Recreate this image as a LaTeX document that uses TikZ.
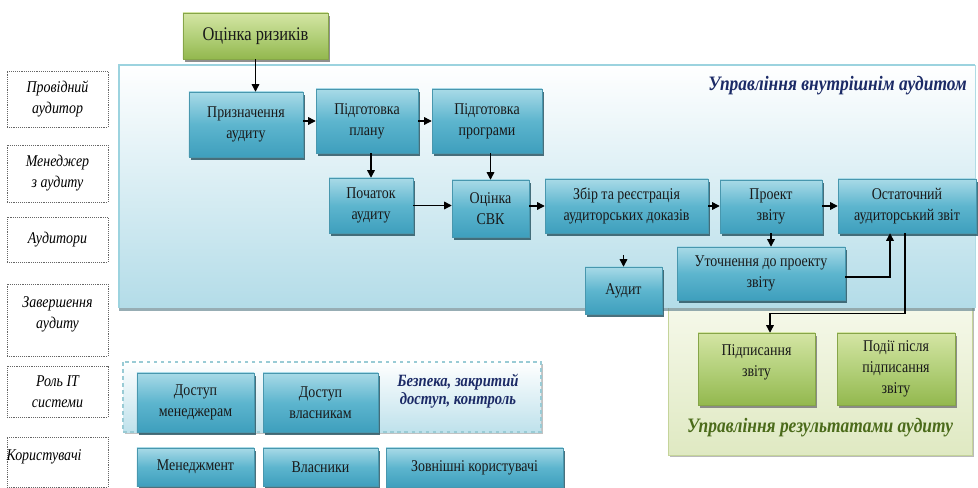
\documentclass[tikz,border=0pt]{standalone}
\usepackage{fontspec}
\setmainfont{Liberation Serif}[FakeStretch=0.85]
\usetikzlibrary{arrows.meta,shadows,calc}
\definecolor{bluetop}{HTML}{A8DAE7}
\definecolor{bluemid}{HTML}{5DB5CE}
\definecolor{bluebot}{HTML}{3E9FBD}
\definecolor{blueedge}{HTML}{4897AE}
\definecolor{greentop}{HTML}{D4E5A4}
\definecolor{greenmid}{HTML}{B3D07A}
\definecolor{greenbot}{HTML}{93B84E}
\definecolor{greenedge}{HTML}{86A548}
\definecolor{navy}{HTML}{1B2A66}
\definecolor{olive}{HTML}{4B6B1A}
\definecolor{panelbot}{HTML}{B3DCE8}
\definecolor{paneledge}{HTML}{9CD3DF}
\definecolor{shadowc}{HTML}{2C5866}
\definecolor{gpaneltop}{HTML}{F8FAEE}
\definecolor{gpanelbot}{HTML}{DFE9C2}
\definecolor{gpaneledge}{HTML}{C5D49A}
\tikzset{
  boxfont/.style={font=\fontsize{14}{18}\selectfont},
  bluebox/.style={draw=blueedge, line width=0.4pt, top color=bluetop, bottom color=bluebot, middle color=bluemid,
    align=center, inner sep=1pt, boxfont, text=black!90,
    drop shadow={shadow xshift=2pt, shadow yshift=-2.5pt, fill=shadowc, opacity=0.85}},
  greenbox/.style={draw=greenedge, line width=0.4pt, top color=greentop, bottom color=greenbot, middle color=greenmid,
    align=center, inner sep=1pt, boxfont, text=black!90,
    drop shadow={shadow xshift=2pt, shadow yshift=-2.5pt, fill=black!55, opacity=0.8}},
  rolebox/.style={draw=black!60, densely dotted, line width=0.6pt, align=center, inner sep=1pt,
    minimum width=3.03cm, font=\itshape\fontsize{14}{18}\selectfont},
  arr/.style={-{Triangle[length=6.5pt,width=6.5pt]}, line width=1.1pt, black},
  paneltitle/.style={font=\bfseries\itshape\fontsize{17.5}{20}\selectfont},
}
\begin{document}
\begin{tikzpicture}[x=0.03cm, y=-0.03cm]
\useasboundingbox (0,0) rectangle (978,488);

% green results panel
\path[draw=gpaneledge, line width=0.8pt, top color=gpaneltop, bottom color=gpanelbot,
  drop shadow={shadow xshift=1.5pt, shadow yshift=-2pt, fill=black!45, opacity=0.6}]
  (668,290) rectangle (972,455);
% blue internal audit panel
\path[top color=white, bottom color=panelbot,
  drop shadow={shadow xshift=0pt, shadow yshift=-2.5pt, fill=shadowc!70, opacity=0.7}]
  (119,65) rectangle (975,308);
\draw[paneledge, line width=1.2pt] (119,308) -- (119,65) -- (975,65);
\draw[paneledge!80, line width=0.5pt] (975,65) -- (975,308);
% dashed IT panel
\path[draw=paneledge!90!gray, dashed, line width=1pt, top color=white, bottom color=panelbot!85,
  drop shadow={shadow xshift=1.5pt, shadow yshift=-2pt, fill=black!40, opacity=0.6}]
  (123,362) rectangle (541,432);

% titles
\node[paneltitle, text=navy, anchor=east] (t1) at (971,86) {Управління внутрішнім аудитом};
\node[paneltitle, text=olive] (t2) at (820,428) {Управління результатами аудиту};
\node[font=\bfseries\itshape\fontsize{14.7}{15.5}\selectfont, text=navy, align=center] (t3) at (458,391)
  {Безпека, закритий\\доступ, контроль};

% role labels
\node[rolebox, minimum height=1.68cm] (l1) at (57.5,99) {Провідний\\аудитор};
\node[rolebox, minimum height=1.71cm] (l2) at (57.5,173.5) {Менеджер\\з аудиту};
\node[rolebox, minimum height=1.35cm] (l3) at (57.5,239.5) {Аудитори};
\node[rolebox, minimum height=2.16cm] (l4) at (57.5,320) {Завершення\\аудиту\\[-6pt]};
\node[rolebox, minimum height=1.53cm] (l5) at (57.5,391.5) {Роль IT\\системи};
\node[rolebox, minimum height=1.50cm] (l6) at (57.5,462) {\hspace*{-23pt}Користувачі\\[-6pt]};

% process boxes
\node[greenbox, minimum width=4.35cm, minimum height=1.38cm, font=\fontsize{16.5}{18}\selectfont] (risk) at (255.5,36) {Оцінка ризиків};
\node[bluebox, minimum width=3.42cm, minimum height=1.95cm] (pris) at (246,124.5) {Призначення\\аудиту};
\node[bluebox, minimum width=3.06cm, minimum height=1.92cm] (plan) at (367,121) {Підготовка\\плану};
\node[bluebox, minimum width=3.30cm, minimum height=1.92cm] (prog) at (487,121) {Підготовка\\програми};
\node[bluebox, minimum width=2.52cm, minimum height=1.65cm] (pochat) at (371,205.5) {Початок\\аудиту};
\node[bluebox, minimum width=2.31cm, minimum height=1.71cm] (svk) at (490.5,208.5) {Оцінка\\СВК};
\node[bluebox, minimum width=4.89cm, minimum height=1.62cm] (zbir) at (626.5,206) {Збір та реєстрація\\аудиторських доказів};
\node[bluebox, minimum width=3.06cm, minimum height=1.59cm] (proekt) at (771,206.5) {Проект\\звіту};
\node[bluebox, minimum width=4.14cm, minimum height=1.62cm] (ostat) at (907,206) {Остаточний\\аудиторський звіт};
\node[bluebox, minimum width=5.04cm, minimum height=1.59cm] (utoch) at (761,273.5) {Уточнення до проекту\\звіту};
\node[bluebox, minimum width=2.31cm, minimum height=1.41cm] (audit) at (623.5,290.5) {Аудит};
\node[greenbox, minimum width=3.51cm, minimum height=2.16cm] (pidp) at (756.5,369) {Підписання\\звіту\\[-3.5pt]};
\node[greenbox, minimum width=3.54cm, minimum height=2.16cm] (podii) at (896,369) {Події після\\підписання\\звіту};

% IT role and users
\node[bluebox, minimum width=3.51cm, minimum height=1.77cm] (dm) at (195.5,402.5) {Доступ\\менеджерам};
\node[bluebox, minimum width=3.45cm, minimum height=1.77cm] (dv) at (320.5,402.5) {Доступ\\власникам};
\node[bluebox, minimum width=3.51cm, minimum height=1.14cm] (men) at (195.5,467) {Менеджмент};
\node[bluebox, minimum width=3.45cm, minimum height=1.14cm] (vlas) at (320.5,467) {Власники};
\node[bluebox, minimum width=5.31cm, minimum height=1.17cm] (zovn) at (474.5,467.5) {Зовнішні користувачі};

% connectors
\draw[arr] (risk.south) -- (risk.south |- pris.north);
\draw[arr] (pris.east |- plan.west) -- (plan.west);
\draw[arr] (plan.east) -- (prog.west);
\draw[arr] (pochat.north |- plan.south) -- (pochat.north);
\draw[arr] (svk.north |- prog.south) -- (svk.north);
\draw[arr] (pochat.east) -- (pochat.east -| svk.west);
\draw[arr] (svk.east |- zbir.west) -- (zbir.west);
\draw[arr] (zbir.east) -- (zbir.east -| proekt.west);
\draw[arr] (proekt.east |- ostat.west) -- (ostat.west);
\draw[arr] (proekt.south) -- (proekt.south |- utoch.north);
\coordinate (ain) at ($(audit.north)+(0,-12)$);
\draw[arr] (ain) -- (audit.north);
\coordinate (oin) at ($(ostat.south)+(-17,0)$);
\coordinate (uout) at ($(utoch.east)+(0,3.5)$);
\draw[arr] (uout) -| (oin);
\coordinate (oout) at ($(ostat.south)+(-2,0)$);
\coordinate (pin) at ($(pidp.north)+(13.5,0)$);
\draw[arr] (oout) -- ++(0,80) -| (pin);
\end{tikzpicture}
\end{document}
